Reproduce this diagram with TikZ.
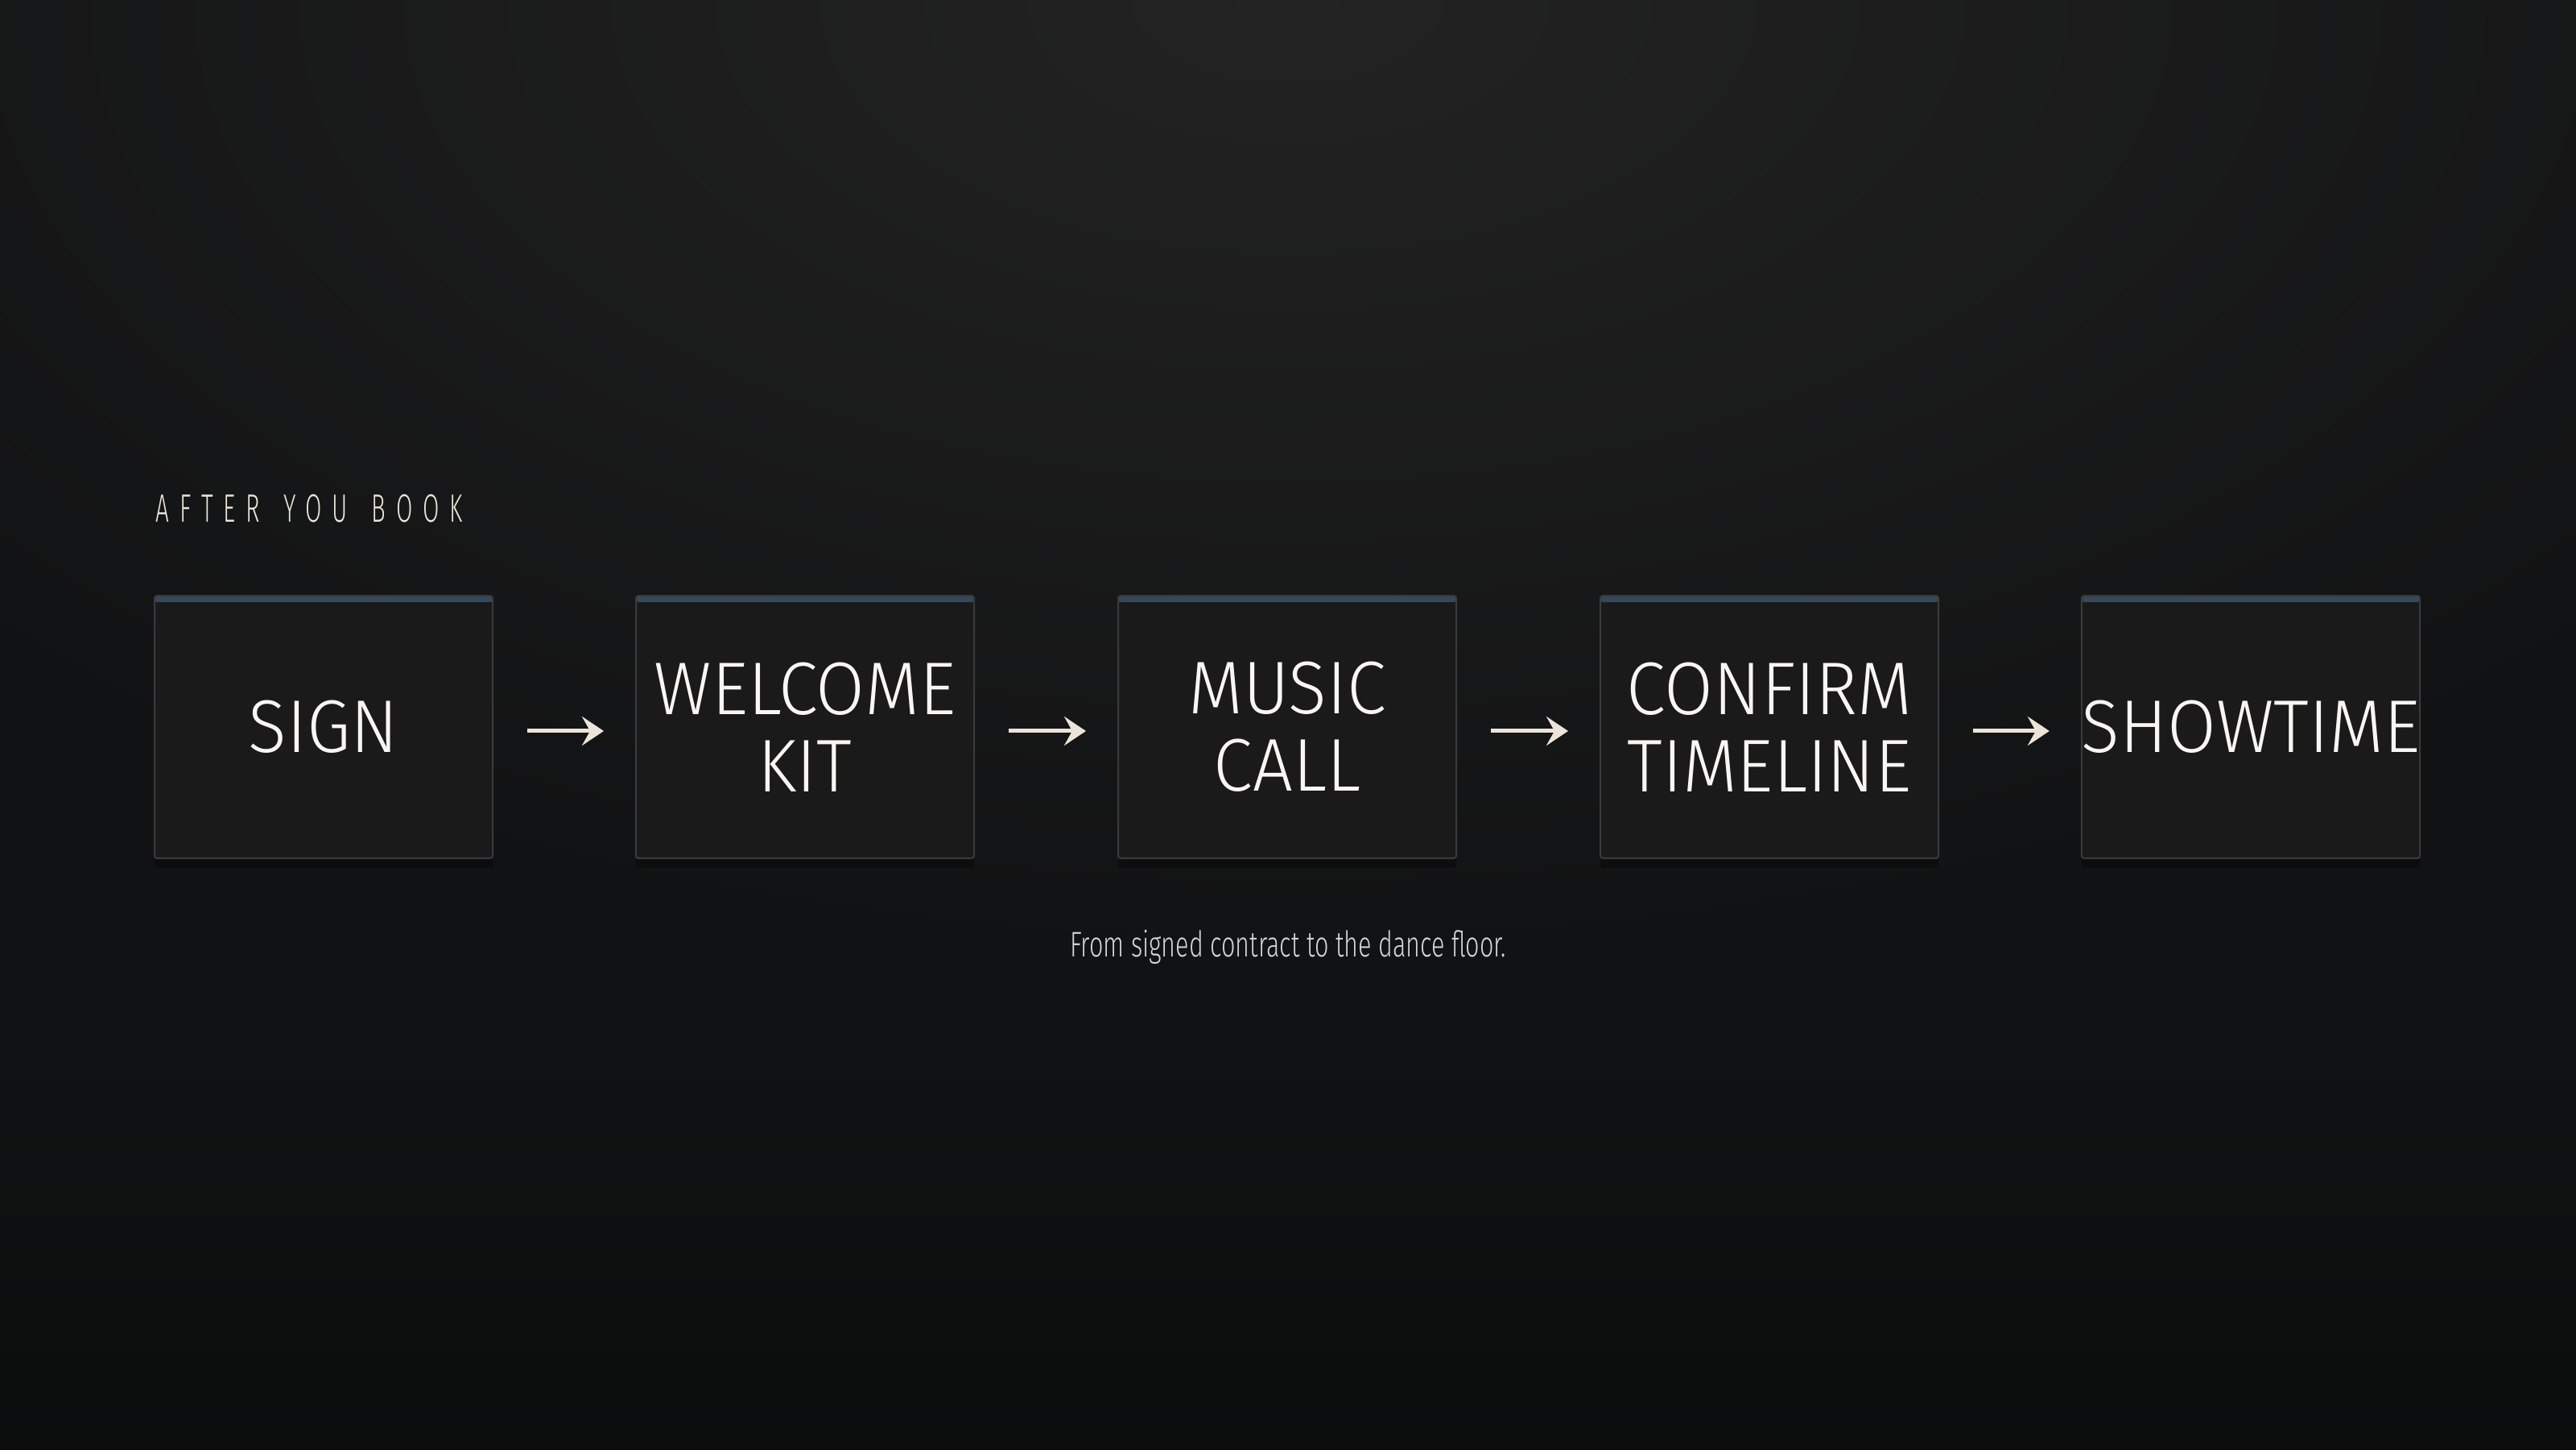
\documentclass[tikz,border=0pt]{standalone}
\usepackage{fontspec}
\newfontfamily\stepfont[FakeStretch=0.95]{Fira Sans Light}
\newfontfamily\capfont[FakeStretch=0.69]{Fira Sans Light}
\newfontfamily\headfont[FakeStretch=0.6,LetterSpace=26,WordSpace=1.4]{Fira Sans Light}
\usetikzlibrary{arrows.meta,shadows}
\definecolor{bgbase}{HTML}{111213}
\definecolor{bgglow}{HTML}{232323}
\definecolor{bgdeep}{HTML}{0B0C0C}
\definecolor{boxfill}{HTML}{1A1A1A}
\definecolor{boxline}{HTML}{3A3A3A}
\definecolor{topbar}{HTML}{33485A}
\definecolor{cream}{HTML}{ECE4D8}
\definecolor{steptext}{HTML}{F8F6F2}
\definecolor{captext}{HTML}{D2D6DC}
\begin{document}
\begin{tikzpicture}[x=1cm,y=1cm,
  stepbox/.style={rectangle, draw=boxline, line width=0.02cm, fill=boxfill,
    rounded corners=0.03cm, minimum width=4.2cm, minimum height=3.26cm,
    inner sep=0pt, align=center, text=steptext,
    font=\stepfont\fontsize{26.4}{27.3}\selectfont,
    drop shadow={shadow xshift=0cm, shadow yshift=-0.12cm, opacity=0.3, fill=black},
    path picture={\fill[topbar] (path picture bounding box.north west) rectangle
      ([yshift=-0.08cm]path picture bounding box.north east);}},
  flowarrow/.style={draw=cream, line width=0.05cm,
    -{Stealth[length=0.27cm, width=0.36cm, inset=0.1cm]},
    shorten <=0.42cm, shorten >=0.39cm, transform canvas={yshift=-0.05cm}}]
% background
\fill[bgbase] (0,0) rectangle (32,18);
\begin{scope}
\clip (0,0) rectangle (32,18);
\shade[inner color=bgglow, outer color=bgbase] (16,18) ellipse (22 and 12);
\shade[top color=bgbase, bottom color=bgdeep] (0,0) rectangle (32,5);
\end{scope}
\useasboundingbox (0,0) rectangle (32,18);
% heading
\node [anchor=base west, inner sep=0pt, text=cream, font=\headfont\fontsize{14}{16}\selectfont] (head) at (1.93,11.515) {AFTER YOU BOOK};
% steps
\node [stepbox] (sign) at (4.02,8.97) {SIGN};
\node [stepbox] (kit) at (10.0,8.97) {WELCOME\\KIT};
\node [stepbox] (call) at (15.99,8.97) {MUSIC\\CALL};
\node [stepbox] (timeline) at (21.98,8.97) {CONFIRM\\TIMELINE};
\node [stepbox] (show) at (27.96,8.97) {SHOWTIME};
\draw [flowarrow] (sign) -- (kit);
\draw [flowarrow] (kit) -- (call);
\draw [flowarrow] (call) -- (timeline);
\draw [flowarrow] (timeline) -- (show);
% caption
\node [anchor=base, inner sep=0pt, text=captext, font=\capfont\fontsize{12.6}{14}\selectfont] (caption) at (16,6.12) {From signed contract to the dance floor.};
\end{tikzpicture}
\end{document}
